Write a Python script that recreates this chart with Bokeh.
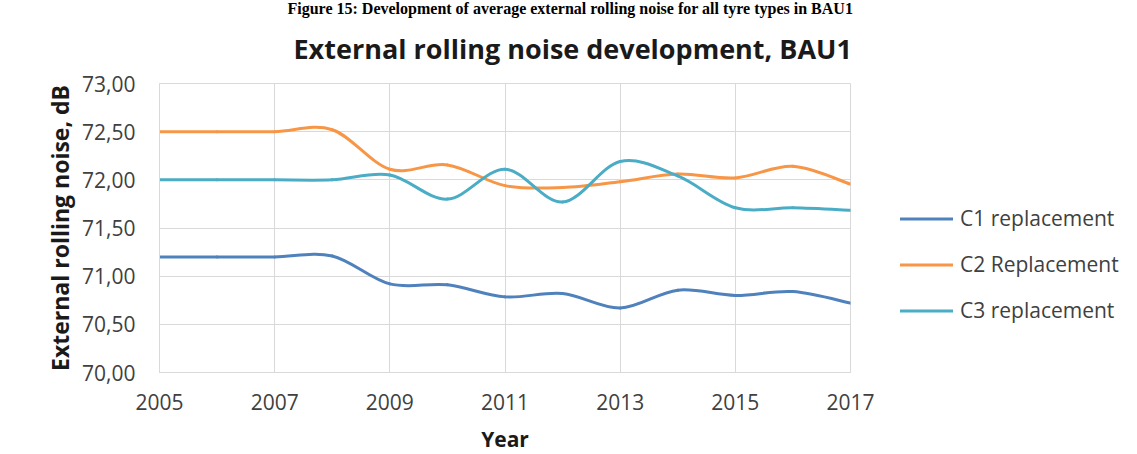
import numpy as np
from bokeh.plotting import figure
from bokeh.models import (Legend, LegendItem, Title, FixedTicker,
                          CustomJSTickFormatter, Range1d, ColumnDataSource)
from bokeh.embed import file_html
from bokeh.resources import INLINE

# ---------------- data ----------------
years = [2005, 2006, 2007, 2008, 2009, 2010, 2011, 2012, 2013, 2014, 2015, 2016, 2017]
c1_replacement = [71.20, 71.20, 71.20, 71.21, 70.92, 70.91, 70.785, 70.82, 70.67, 70.855, 70.80, 70.84, 70.72]
c2_replacement = [72.50, 72.50, 72.50, 72.52, 72.11, 72.155, 71.94, 71.92, 71.98, 72.06, 72.02, 72.14, 71.955]
c3_replacement = [72.00, 72.00, 72.00, 72.00, 72.05, 71.80, 72.11, 71.77, 72.19, 72.04, 71.71, 71.71, 71.685]
series_names = ["C1 replacement", "C2 Replacement", "C3 replacement"]
series_colors = ["#4F81BD", "#F79646", "#4BACC6"]
x_ticks = [2005, 2007, 2009, 2011, 2013, 2015, 2017]
y_ticks = [70.0, 70.5, 71.0, 71.5, 72.0, 72.5, 73.0]

chart_title = "External rolling noise development, BAU1"
caption = "Figure 15: Development of average external rolling noise for all tyre types in BAU1"
x_label = "Year"
y_label = "External rolling noise, dB"

FONT = "Open Sans"
GRID = "#d9d9d9"


def smooth_segments(xs, ys):
    """Catmull-Rom style cubic Bezier control points (like Excel's smoothed line)."""
    xs = np.asarray(xs, float)
    ys = np.asarray(ys, float)
    n = len(xs)
    d = dict(x0=[], y0=[], x1=[], y1=[], cx0=[], cy0=[], cx1=[], cy1=[])
    for i in range(n - 1):
        a = max(i - 1, 0)
        b = min(i + 2, n - 1)
        d["x0"].append(xs[i]); d["y0"].append(ys[i])
        d["x1"].append(xs[i + 1]); d["y1"].append(ys[i + 1])
        d["cx0"].append(xs[i] + (xs[i + 1] - xs[a]) / 6.0)
        d["cy0"].append(ys[i] + (ys[i + 1] - ys[a]) / 6.0)
        d["cx1"].append(xs[i + 1] - (xs[b] - xs[i]) / 6.0)
        d["cy1"].append(ys[i + 1] - (ys[b] - ys[i]) / 6.0)
    return d


p = figure(
    frame_width=691, frame_height=289,
    min_border_left=159, min_border_right=279,
    min_border_top=83, min_border_bottom=82,
    x_range=Range1d(2005, 2017), y_range=Range1d(70, 73),
    output_backend="svg", toolbar_location=None, tools="",
)
p.background_fill_color = "white"
p.border_fill_color = "white"
p.outline_line_color = GRID

# caption (top-most title panel)
p.title.text = caption
p.title.align = "left"
p.title.offset = 128
p.title.text_font = "Liberation Serif"
p.title.text_font_size = "16px"
p.title.text_font_style = "bold"
p.title.text_color = "black"
p.title.standoff = -12

# chart title (panel nearest the frame)
main_title = Title(text=chart_title, align="left", offset=134,
                   text_font=FONT, text_font_size="27px",
                   text_font_style="bold", text_color="#1a1a1a", standoff=34)
p.add_layout(main_title, "above")

# axes
for ax in (p.xaxis[0], p.yaxis[0]):
    ax.axis_line_color = GRID
    ax.major_tick_line_color = None
    ax.minor_tick_line_color = None
    ax.major_label_text_font = FONT
    ax.major_label_text_font_size = "21px"
    ax.major_label_text_color = "#404040"
    ax.axis_label_text_font = FONT
    ax.axis_label_text_font_style = "bold"
    ax.axis_label_text_color = "#1a1a1a"

p.xaxis.ticker = FixedTicker(ticks=x_ticks)
p.yaxis.ticker = FixedTicker(ticks=y_ticks)
p.xaxis.axis_label = x_label
p.yaxis.axis_label = y_label
p.xaxis.axis_label_text_font_size = "21px"
p.yaxis.axis_label_text_font_size = "23px"
p.xaxis.major_label_standoff = 15
p.yaxis.major_label_standoff = 18
p.xaxis.axis_label_standoff = 12
p.yaxis.axis_label_standoff = 3
p.yaxis.formatter = CustomJSTickFormatter(code="return tick.toFixed(2).replace('.', ',');")

p.xgrid.ticker = FixedTicker(ticks=x_ticks)
p.ygrid.ticker = FixedTicker(ticks=y_ticks)
p.xgrid.grid_line_color = GRID
p.ygrid.grid_line_color = GRID
p.xgrid.grid_line_width = 1
p.ygrid.grid_line_width = 1

# lines
items = []
for name, col, vals in zip(series_names, series_colors,
                           [c1_replacement, c2_replacement, c3_replacement]):
    src = ColumnDataSource(smooth_segments(years, vals))
    r = p.bezier(x0="x0", y0="y0", x1="x1", y1="y1", cx0="cx0", cy0="cy0",
                 cx1="cx1", cy1="cy1", source=src, line_color=col,
                 line_width=3, line_cap="round")
    items.append(LegendItem(label=name, renderers=[r]))

legend = Legend(items=items, location=(50, 48))
legend.border_line_color = None
legend.background_fill_alpha = 0
legend.padding = 0
legend.margin = 0
legend.spacing = 18
legend.glyph_width = 53
legend.glyph_height = 27
legend.label_height = 27
legend.label_standoff = 7
legend.label_text_font = FONT
legend.label_text_font_size = "21px"
legend.label_text_color = "#404040"
p.add_layout(legend, "right")

open("out.html", "w").write(file_html(p, INLINE))
